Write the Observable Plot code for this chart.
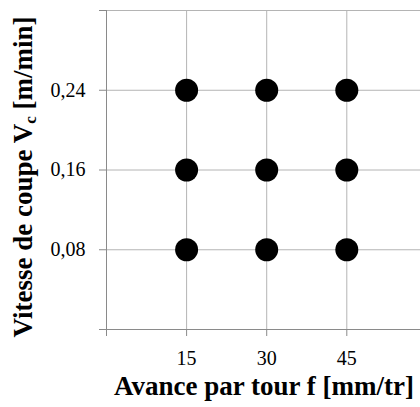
<!DOCTYPE html>
<html>
<head>
<meta charset="utf-8">
<script src="https://cdn.jsdelivr.net/npm/d3@7"></script>
<script src="https://cdn.jsdelivr.net/npm/@observablehq/plot@0.6"></script>
<style>
  html, body { margin: 0; padding: 0; background: #fff; }
  #chart { width: 420px; height: 407px; overflow: hidden; }
</style>
</head>
<body>
<div id="chart"></div>
<script>
const feeds = [15, 30, 45];
const speeds = [0.08, 0.16, 0.24];
const xTicks = [15, 30, 45];
const yTicks = [0, 0.08, 0.16, 0.24, 0.32];
const yLabelTicks = [0.08, 0.16, 0.24];
const yLabels = ["0,08", "0,16", "0,24"];
const xTitle = "Avance par tour f [mm/tr]";
const yTitleMain = "Vitesse de coupe V";
const yTitleSub = "c";
const yTitleUnit = " [m/min]";

const points = [];
for (const s of speeds) for (const f of feeds) points.push({f, s});

const gridColor = "#b4b4b4";
const axisColor = "#8a8a8a";
const font = "Liberation Serif";

const plot = Plot.plot({
  width: 420,
  height: 407,
  marginLeft: 106,
  marginRight: 0,
  marginTop: 10,
  marginBottom: 78,
  style: {fontFamily: font, fontSize: "20px", color: "#000", background: "#fff"},
  x: {domain: [0, 58.8], ticks: xTicks},
  y: {domain: [0, 0.32], ticks: yTicks},
  marks: [
    Plot.ruleX(xTicks, {x: d => d, y1: 0, y2: 0.32, stroke: gridColor, strokeWidth: 1}),
    Plot.ruleY(yTicks.slice(1), {y: d => d, stroke: gridColor, strokeWidth: 1}),
    Plot.ruleY([0], {stroke: axisColor, strokeWidth: 1}),
    Plot.ruleX([0], {stroke: axisColor, strokeWidth: 1}),
    Plot.axisX({ticks: [0, ...xTicks], tickSize: 7, stroke: axisColor, label: null, tickFormat: () => ""}),
    Plot.axisY({ticks: yTicks, tickSize: 7, stroke: axisColor, label: null, tickFormat: () => ""}),
    Plot.text(xTicks, {x: d => d, y: 0, text: d => String(d), dy: 29, fontSize: 20,
      fontFamily: font, fill: "#000"}),
    Plot.text(yLabelTicks, {x: 0, y: d => d, text: (d, i) => yLabels[i], dx: -21,
      textAnchor: "end", fontSize: 20, fontFamily: font, fill: "#000"}),
    Plot.dot(points, {x: "f", y: "s", r: 11.5, fill: "#000", stroke: "none"}),
    Plot.text([xTitle], {text: d => d, x: 29.5, y: 0, dy: 57,
      fontWeight: "bold", fontSize: 27, fontFamily: font, fill: "#000"})
  ]
});

document.getElementById("chart").appendChild(plot);

// Y axis title with subscript, as real text
const svg = d3.select(plot);
const t = svg.append("text")
  .attr("transform", "translate(26,177) rotate(-90)")
  .attr("text-anchor", "middle")
  .attr("dominant-baseline", "middle")
  .attr("font-family", font)
  .attr("font-weight", "bold")
  .attr("font-size", 27)
  .attr("fill", "#000");
t.append("tspan").text(yTitleMain);
t.append("tspan").attr("font-size", 17).attr("dy", 6).text(yTitleSub);
t.append("tspan").attr("dy", -6).text(yTitleUnit);
</script>
</body>
</html>
